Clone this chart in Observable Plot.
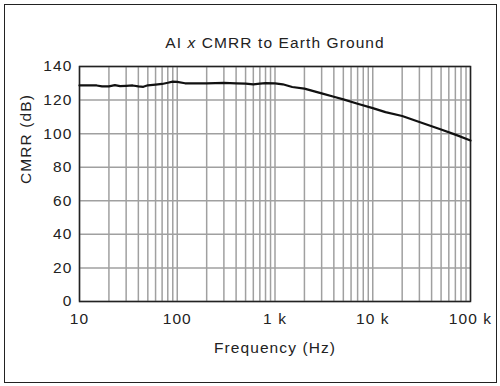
<!DOCTYPE html>
<html>
<head>
<meta charset="utf-8">
<script src="https://cdn.jsdelivr.net/npm/d3@7"></script>
<script src="https://cdn.jsdelivr.net/npm/@observablehq/plot@0.6"></script>
<style>
  html, body { margin: 0; padding: 0; background: #fff; }
  #wrap { position: relative; width: 500px; height: 386px; }
  #border { position: absolute; left: 4px; top: 4px; width: 493px; height: 379px; border: 1.5px solid #222; box-sizing: border-box; pointer-events: none; }
</style>
</head>
<body>
<div id="wrap"><div id="border"></div></div>
<script>
const titleParts = ["AI ", "x", " CMRR to Earth Ground"];
const title = titleParts.join("");
const xLabel = "Frequency (Hz)";
const yLabel = "CMRR (dB)";

const freqHz = [10, 15, 17, 20, 23, 26, 30, 35, 40, 45, 50, 60, 70, 80, 90, 100, 120, 150, 200, 300, 400, 500, 600, 700, 800, 1000, 1200, 1500, 2000, 3000, 4000, 5000, 7000, 10000, 13500, 20000, 30000, 50000, 70000, 100000];
const cmrrDb = [128.7, 128.7, 128.2, 128.2, 128.9, 128.3, 128.5, 128.7, 128.2, 127.9, 128.8, 129.2, 129.6, 130.3, 131.0, 130.8, 130.0, 130.0, 130.0, 130.2, 130.0, 129.8, 129.3, 129.8, 130.1, 130.0, 129.4, 127.8, 126.8, 124.0, 122.0, 120.4, 117.8, 115.2, 112.8, 110.5, 106.9, 102.5, 99.4, 95.9];

const xTicks = [10, 100, 1000, 10000, 100000];
const xTickLabels = ["10", "100", "1 k", "10 k", "100 k"];
const yTicks = [0, 20, 40, 60, 80, 100, 120, 140];
const minorMultipliers = [1, 2, 3, 4, 5, 6, 7, 8, 9];

const data = freqHz.map((f, i) => ({f, db: cmrrDb[i]}));
const gridX = [];
for (const d of [10, 100, 1000, 10000]) for (const m of minorMultipliers) gridX.push(d * m);
gridX.push(100000);
const labelOf = new Map(xTicks.map((t, i) => [t, xTickLabels[i]]));

const chart = Plot.plot({
  width: 500,
  height: 386,
  marginLeft: 79,
  marginRight: 30,
  marginTop: 66,
  marginBottom: 85,
  style: {fontFamily: "'Liberation Sans', Arial, Helvetica, sans-serif", fontSize: "15.5px", letterSpacing: "1.1px", color: "#222", background: "transparent"},
  x: {type: "log", domain: [10, 100000]},
  y: {domain: [0, 140]},
  marks: [
    Plot.ruleX(gridX, {x: d => d, stroke: "#a0a0a0", strokeWidth: 1.5}),
    Plot.ruleY(yTicks, {y: d => d, stroke: "#a0a0a0", strokeWidth: 1.5}),
    Plot.frame({stroke: "#222", strokeWidth: 1.5}),
    Plot.axisX(xTicks, {tickSize: 0, tickPadding: 11, tickFormat: d => labelOf.get(d), label: null, fill: "#222"}),
    Plot.axisY(yTicks, {tickSize: 0, tickPadding: 7, label: null, fill: "#222"}),
    Plot.line(data, {x: "f", y: "db", stroke: "#111", strokeWidth: 2.2, curve: "linear"}),
    Plot.text([title], {frameAnchor: "top", dy: -23, lineAnchor: "middle", fill: "#222", text: d => d, className: "chart-title"}),
    Plot.text([xLabel], {frameAnchor: "bottom", dy: 47, lineAnchor: "middle", fill: "#222", text: d => d}),
    Plot.text([yLabel], {frameAnchor: "left", dx: -53, rotate: -90, lineAnchor: "middle", fill: "#222", text: d => d})
  ]
});
document.getElementById("wrap").prepend(chart);

// italic "x" in title
const t = d3.select(chart).select("g.chart-title text");
if (!t.empty()) {
  t.text(null);
  titleParts.forEach((p, i) => {
    const s = t.append("tspan").text(p);
    if (i === 1) s.attr("font-style", "italic");
  });
}
</script>
</body>
</html>
